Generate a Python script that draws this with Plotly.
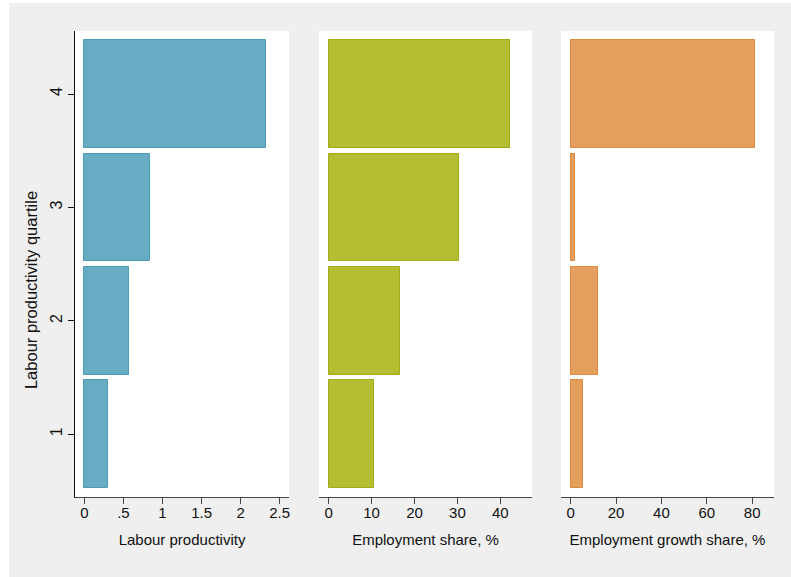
import plotly.graph_objects as go

# Labour productivity quartiles (1 = lowest, 4 = highest)
quartiles = [1, 2, 3, 4]
labour_productivity = [0.30, 0.57, 0.84, 2.32]
employment_share = [10.5, 16.6, 30.4, 42.3]
employment_growth_share = [5.6, 11.9, 1.9, 81.2]

prod_ticks = [0, 0.5, 1, 1.5, 2, 2.5]
prod_tick_text = ["0", ".5", "1", "1.5", "2", "2.5"]
share_ticks = [0, 10, 20, 30, 40]
growth_ticks = [0, 20, 40, 60, 80]

panel_titles = ["Labour productivity", "Employment share, %", "Employment growth share, %"]
y_title = "Labour productivity quartile"

FONT = "Liberation Sans, Arial, sans-serif"
TEXT = "#111111"
BG = "#efefef"

fig = go.Figure()

series = [
    (labour_productivity, "x", "#68acc4", "#4d9bb7"),
    (employment_share, "x2", "#b5bd33", "#a2ab14"),
    (employment_growth_share, "x3", "#e49f5e", "#de8a3c"),
]
for values, xa, fill, edge in series:
    fig.add_trace(go.Bar(
        x=values, y=quartiles, orientation="h", width=0.95,
        xaxis=xa, yaxis="y",
        marker=dict(color=fill, line=dict(color=edge, width=1)),
        showlegend=False, hoverinfo="x+y",
    ))

common_x = dict(
    showgrid=False, zeroline=False, showline=True, linecolor="#444444", linewidth=1,
    ticks="outside", ticklen=6, tickcolor="#444444", tickwidth=1,
    ticklabelstandoff=-4,
    tickfont=dict(family=FONT, size=15, color=TEXT),
    anchor="y", fixedrange=True,
)

fig.update_layout(
    width=791, height=577,
    margin=dict(l=75, r=17, t=31, b=80),
    paper_bgcolor="white",
    plot_bgcolor="white",
    font=dict(family=FONT, size=15, color=TEXT),
    bargap=0,
    xaxis=dict(common_x, domain=[0, 0.3062], range=[-0.12, 2.62],
               tickvals=prod_ticks, ticktext=prod_tick_text,
               title=dict(text=panel_titles[0], standoff=14,
                          font=dict(family=FONT, size=15, color=TEXT))),
    xaxis2=dict(common_x, domain=[0.3491, 0.6538], range=[-2.26, 47.4],
                tickvals=share_ticks,
                title=dict(text=panel_titles[1], standoff=14,
                           font=dict(family=FONT, size=15, color=TEXT))),
    xaxis3=dict(common_x, domain=[0.6953, 1.0], range=[-4.27, 89.6],
                tickvals=growth_ticks,
                title=dict(text=panel_titles[2], standoff=14,
                           font=dict(family=FONT, size=15, color=TEXT))),
    yaxis=dict(
        domain=[0, 1], range=[0.447, 4.556], anchor="x",
        showgrid=False, zeroline=False, showline=True, linecolor="#111111", linewidth=1,
        ticks="outside", ticklen=6, tickcolor="#111111",
        tickvals=quartiles, tickangle=-90,
        tickfont=dict(family=FONT, size=16, color=TEXT),
        fixedrange=True,
    ),
    annotations=[
        dict(text=y_title, textangle=-90, xref="paper", yref="paper",
             x=-0.063, y=0.444, xanchor="center", yanchor="middle",
             showarrow=False, font=dict(family=FONT, size=16.5, color=TEXT)),
    ],
    shapes=[
        # light grey graph region behind the three white panels
        dict(type="rect", xref="paper", yref="paper",
             x0=-0.0944, x1=1.03, y0=-0.18, y1=1.0601,
             fillcolor=BG, line=dict(width=0), layer="below"),
        dict(type="rect", xref="paper", yref="paper",
             x0=0, x1=0.3062, y0=0, y1=1,
             fillcolor="white", line=dict(width=0), layer="below"),
        dict(type="rect", xref="paper", yref="paper",
             x0=0.3491, x1=0.6538, y0=0, y1=1,
             fillcolor="white", line=dict(width=0), layer="below"),
        dict(type="rect", xref="paper", yref="paper",
             x0=0.6953, x1=1.0, y0=0, y1=1,
             fillcolor="white", line=dict(width=0), layer="below"),
    ],
)

fig.write_html("out.html")
